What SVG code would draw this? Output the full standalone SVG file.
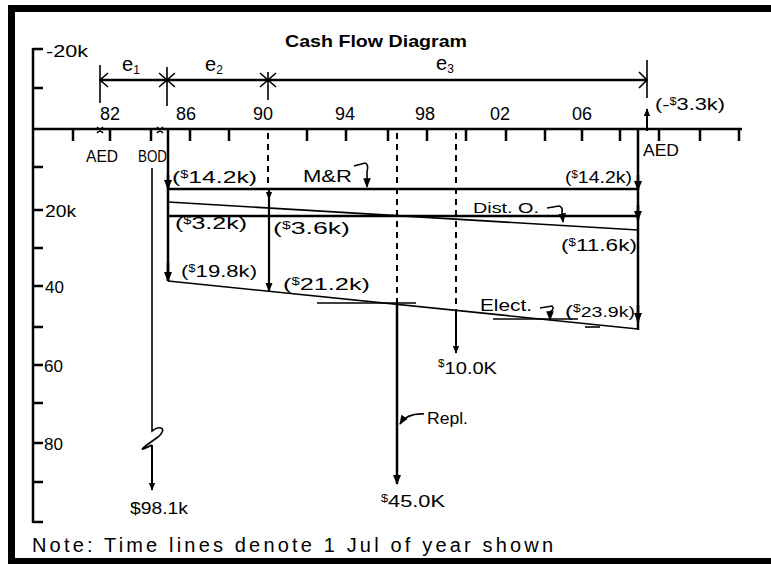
<svg xmlns="http://www.w3.org/2000/svg" width="771" height="564" viewBox="0 0 771 564">
<defs>
<marker id="ah" viewBox="0 0 10 10" refX="9" refY="5" markerWidth="4" markerHeight="4" orient="auto" markerUnits="strokeWidth"><path d="M0,1 L10,5 L0,9 Z" fill="#000"/></marker>
<marker id="ahs" viewBox="0 0 10 10" refX="9" refY="5" markerWidth="6" markerHeight="6" orient="auto" markerUnits="strokeWidth"><path d="M0,1 L10,5 L0,9 Z" fill="#000"/></marker>
<style>
.ax{stroke:#000;stroke-width:2.5;fill:none}
.th{stroke:#000;stroke-width:2.5;fill:none}
.tn{stroke:#000;stroke-width:1.6;fill:none}
.ds{stroke:#000;stroke-width:2;stroke-dasharray:6,5;fill:none}
.hk{stroke:#000;stroke-width:1.6;fill:none}
text{font-family:"Liberation Sans",Arial,sans-serif;fill:#000}
.lb{font-size:17px}
.sm{font-size:16px}
.yr{font-size:18px}
.sup{font-size:10px}
</style>
</defs>
<rect width="771" height="564" fill="#fff"/>
<g id="frame">
<line x1="8" y1="8.5" x2="771" y2="8.5" stroke="#000" stroke-width="7"/>
<line x1="11.5" y1="5" x2="11.5" y2="564" stroke="#000" stroke-width="7"/>
<line x1="8" y1="561" x2="771" y2="561" stroke="#000" stroke-width="6"/>
</g>
<g id="title"><text x="376" y="47" font-weight="bold" font-size="17" text-anchor="middle" textLength="182" lengthAdjust="spacingAndGlyphs">Cash Flow Diagram</text></g>
<g id="y-axis">
<line class="ax" x1="33" y1="48" x2="33" y2="523"/>
<path class="ax" d="M33 49H43M33 88H43M33 167H43M33 210H43M33 248H43M33 286H43M33 327H43M33 365H43M33 403H43M33 443H43M33 482H43M33 522H43"/>
<text x="46" y="57" font-size="17" textLength="42" lengthAdjust="spacingAndGlyphs">-20k</text>
<text x="45" y="217" font-size="17" textLength="31" lengthAdjust="spacingAndGlyphs">20k</text>
<text x="45" y="293" font-size="17">40</text>
<text x="44" y="372" font-size="17">60</text>
<text x="44" y="450" font-size="17">80</text>
</g>
<g id="time-axis">
<line class="ax" x1="33" y1="129" x2="742" y2="129"/>
<path class="ax" d="M73 129V141M110 129V141M151 129V141M190 129V141M229 129V141M307 129V141M346 129V141M388 129V141M427 129V141M466 129V141M506 129V141M545 129V141M582 129V141M620 129V141M659 129V141M700 129V141M739 129V141"/>
<g class="yr">
<text x="110" y="120" text-anchor="middle">82</text>
<text x="186" y="120" text-anchor="middle">86</text>
<text x="263" y="120" text-anchor="middle">90</text>
<text x="345" y="120" text-anchor="middle">94</text>
<text x="425" y="120" text-anchor="middle">98</text>
<text x="500" y="120" text-anchor="middle">02</text>
<text x="582" y="120" text-anchor="middle">06</text>
</g>
<path class="tn" d="M97 127L103 133M103 127L97 133M157 127L163 133M163 127L157 133"/>
<text class="sm" x="86" y="162" textLength="32" lengthAdjust="spacingAndGlyphs">AED</text>
<text class="sm" x="138" y="162" textLength="29" lengthAdjust="spacingAndGlyphs">BOD</text>
<text class="sm" x="643" y="156" textLength="36" lengthAdjust="spacingAndGlyphs">AED</text>
</g>
<g id="dimension">
<line class="th" x1="100" y1="80" x2="647" y2="80"/>
<path class="tn" d="M100 65V103M167 67V106M268 72V100M647 60V98"/>
<path class="tn" d="M108 73L100 80L108 87M159 73L167 80L159 87M175 73L167 80L175 87M260 73L268 80L260 87M276 73L268 80L276 87M639 72L647 80L639 88"/>
<text x="122" y="71" font-size="20">e<tspan font-size="12" dy="3">1</tspan></text>
<text x="205" y="71" font-size="20">e<tspan font-size="12" dy="3">2</tspan></text>
<text x="436" y="70" font-size="20">e<tspan font-size="12" dy="3">3</tspan></text>
</g>
<g id="connectors">
<line class="ds" x1="268" y1="133" x2="268" y2="189"/>
<line class="ds" x1="397" y1="133" x2="397" y2="303"/>
<line class="ds" x1="456" y1="133" x2="456" y2="310"/>
<line class="th" x1="168" y1="129" x2="168" y2="281"/>
<line x1="168" y1="175" x2="168" y2="189" stroke="#000" stroke-width="2.5" marker-end="url(#ah)"/>
<line x1="168" y1="262" x2="168" y2="281" stroke="#000" stroke-width="2.5" marker-end="url(#ah)"/>
<line class="th" x1="168" y1="189" x2="638" y2="189"/>
<line class="th" x1="168" y1="216" x2="638" y2="216"/>
<line class="tn" x1="168" y1="202" x2="638" y2="230"/>
<line class="tn" x1="168" y1="281" x2="638" y2="329" stroke-width="1.8"/>
<line x1="269" y1="189" x2="269" y2="291" stroke="#000" stroke-width="2.2" marker-end="url(#ah)"/>
<line x1="269" y1="189" x2="269" y2="199" stroke="#000" stroke-width="2" marker-end="url(#ah)"/>
<line class="th" x1="638" y1="129" x2="638" y2="330" stroke-width="3"/>
<line x1="638" y1="175" x2="638" y2="190" stroke="#000" stroke-width="2.5" marker-end="url(#ah)"/>
<line x1="638" y1="205" x2="638" y2="220" stroke="#000" stroke-width="2.5" marker-end="url(#ah)"/>
<line x1="638" y1="305" x2="638" y2="322" stroke="#000" stroke-width="2.5" marker-end="url(#ah)"/>
<line class="tn" x1="317" y1="303" x2="416" y2="303" stroke-width="2"/>
<line x1="397" y1="303" x2="397" y2="484" stroke="#000" stroke-width="2.5" marker-end="url(#ah)"/>
<line x1="456" y1="310" x2="456" y2="353" stroke="#000" stroke-width="2" marker-end="url(#ah)"/>
<line class="tn" x1="493" y1="319" x2="578" y2="319"/>
<line class="tn" x1="585" y1="327" x2="600" y2="327"/>
<line x1="647" y1="131" x2="647" y2="109" stroke="#000" stroke-width="2" marker-end="url(#ah)"/>
<path class="tn" d="M152 168V431C160 425 168 428 158 437C148 444 140 450 143 449C146 448 150 446 152 445"/>
<line x1="152" y1="445" x2="152" y2="490" stroke="#000" stroke-width="2" marker-end="url(#ah)"/>
<path class="hk" d="M354 166L365 163Q369 164 367 172L367 187" marker-end="url(#ahs)"/>
<path class="hk" d="M547 208L559 206Q563 207 562 212L563 222" marker-end="url(#ahs)"/>
<path class="hk" d="M540 308L552 306Q555 309 550 312L550 320" marker-end="url(#ahs)"/>
<path class="hk" d="M424 414Q407 413 400 424" marker-end="url(#ahs)"/>
</g>
<g id="labels" class="lb">
<text x="172" y="183" textLength="85" lengthAdjust="spacingAndGlyphs">(<tspan class="sup" dy="-5">$</tspan><tspan dy="5">14.2k)</tspan></text>
<text x="303" y="182" font-size="16" textLength="49" lengthAdjust="spacingAndGlyphs">M&amp;R</text>
<text x="565" y="183" textLength="67" lengthAdjust="spacingAndGlyphs">(<tspan class="sup" dy="-5">$</tspan><tspan dy="5">14.2k)</tspan></text>
<text x="175" y="229" textLength="72" lengthAdjust="spacingAndGlyphs">(<tspan class="sup" dy="-5">$</tspan><tspan dy="5">3.2k)</tspan></text>
<text x="273" y="234" textLength="77" lengthAdjust="spacingAndGlyphs">(<tspan class="sup" dy="-5">$</tspan><tspan dy="5">3.6k)</tspan></text>
<text x="473" y="213" font-size="15" textLength="66" lengthAdjust="spacingAndGlyphs">Dist. O.</text>
<text x="561" y="251" textLength="76" lengthAdjust="spacingAndGlyphs">(<tspan class="sup" dy="-5">$</tspan><tspan dy="5">11.6k)</tspan></text>
<text x="181" y="277" textLength="76" lengthAdjust="spacingAndGlyphs">(<tspan class="sup" dy="-5">$</tspan><tspan dy="5">19.8k)</tspan></text>
<text x="283" y="290" textLength="87" lengthAdjust="spacingAndGlyphs">(<tspan class="sup" dy="-5">$</tspan><tspan dy="5">21.2k)</tspan></text>
<text x="480" y="311" font-size="17" textLength="52" lengthAdjust="spacingAndGlyphs">Elect.</text>
<text x="565" y="317" textLength="70" lengthAdjust="spacingAndGlyphs">(<tspan class="sup" dy="-5">$</tspan><tspan font-size="14" dy="5">23.9k)</tspan></text>
<text x="655" y="110" textLength="70" lengthAdjust="spacingAndGlyphs">(-<tspan class="sup" dy="-5">$</tspan><tspan dy="5">3.3k)</tspan></text>
<text x="438" y="374" font-size="17" textLength="59" lengthAdjust="spacingAndGlyphs"><tspan class="sup" dy="-7">$</tspan><tspan dy="7">10.0K</tspan></text>
<text x="427" y="424" font-size="16" textLength="41" lengthAdjust="spacingAndGlyphs">Repl.</text>
<text x="381" y="507" font-size="17" textLength="64" lengthAdjust="spacingAndGlyphs"><tspan class="sup" dy="-5">$</tspan><tspan dy="5">45.0K</tspan></text>
<text x="130" y="514" font-size="17" textLength="58" lengthAdjust="spacingAndGlyphs">$98.1k</text>
</g>
<g id="note"><text x="32" y="552" font-size="20" textLength="521" lengthAdjust="spacing">Note: Time lines denote 1 Jul of year shown</text></g>
</svg>
